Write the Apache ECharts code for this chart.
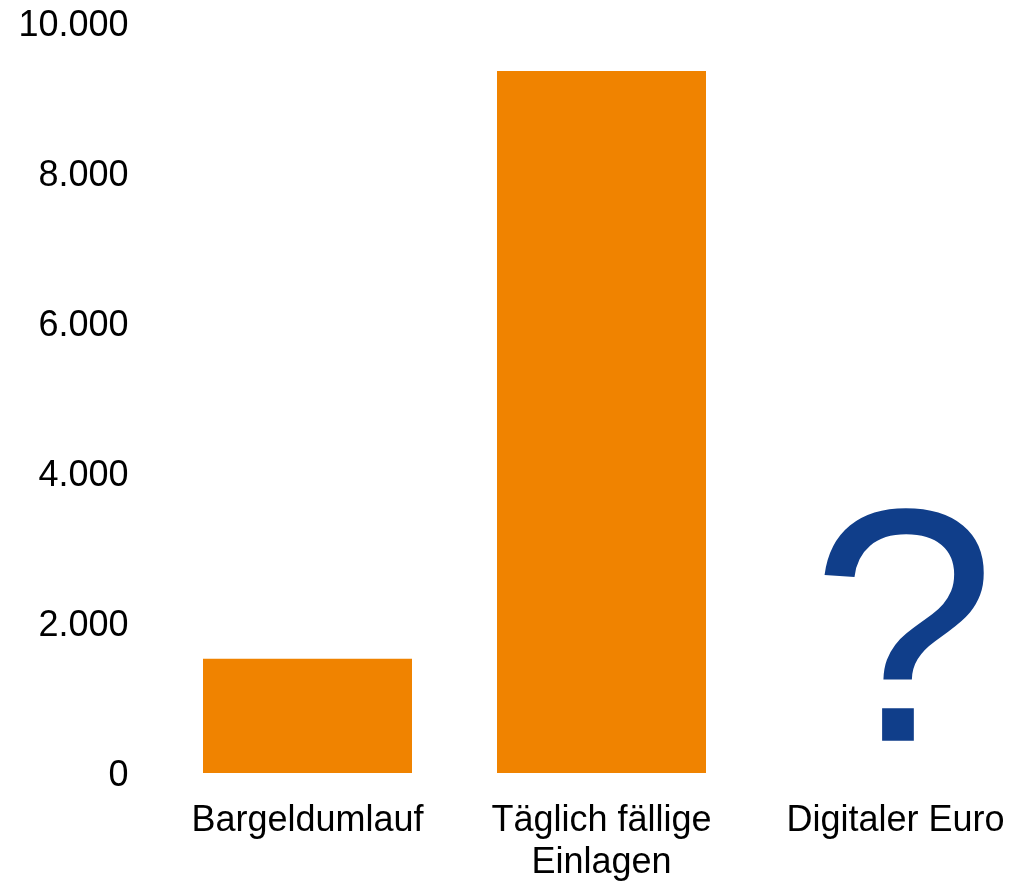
<!DOCTYPE html>
<html>
<head>
<meta charset="utf-8">
<script src="https://cdn.jsdelivr.net/npm/echarts@6/dist/echarts.min.js"></script>
<style>
html,body{margin:0;padding:0;background:#fff;}
#chart{width:1026px;height:882px;}
</style>
</head>
<body>
<div id="chart"></div>
<script>
const categories = ['Bargeldumlauf', 'Täglich fällige\nEinlagen', 'Digitaler Euro'];
const values = [1525, 9360, null];
const questionMarks = [null, null, 2000];
const yTicks = [0, 2000, 4000, 6000, 8000, 10000];

const fmt = v => '{a|' + String(v).replace(/\B(?=(\d{3})+(?!\d))/g, '.') + '}';

const chart = echarts.init(document.getElementById('chart'), null, {renderer: 'canvas'});
chart.setOption({
  animation: false,
  backgroundColor: '#ffffff',
  textStyle: {fontFamily: 'Liberation Sans, Arial, sans-serif'},
  grid: {left: 160.5, top: 23, width: 882, bottom: 109, containLabel: false, outerBoundsMode: 'none'},
  xAxis: {
    type: 'category',
    data: categories,
    axisLine: {show: false},
    axisTick: {show: false},
    axisLabel: {color: '#000', fontSize: 36, lineHeight: 42, margin: 27, fontFamily: 'Liberation Sans, Arial, sans-serif', interval: 0}
  },
  yAxis: {
    type: 'value',
    min: yTicks[0],
    max: yTicks[yTicks.length - 1],
    interval: 2000,
    splitLine: {show: false},
    axisLine: {show: false},
    axisTick: {show: false},
    axisLabel: {
      color: '#000', fontSize: 36, margin: 32, formatter: fmt,
      fontFamily: 'Liberation Sans, Arial, sans-serif',
      rich: {a: {fontSize: 36, color: '#000', padding: [6, 0, 0, 0], fontFamily: 'Liberation Sans, Arial, sans-serif'}}
    }
  },
  series: [
    {
      type: 'bar',
      data: values,
      barWidth: 209,
      itemStyle: {color: '#F08300'}
    },
    {
      type: 'scatter',
      data: questionMarks,
      symbolSize: 0,
      silent: true,
      itemStyle: {opacity: 1, color: '#103E8A'},
      label: {
        show: true,
        position: 'inside',
        formatter: '?',
        color: '#103E8A',
        opacity: 1,
        fontSize: 333,
        fontFamily: 'Liberation Sans, Arial, sans-serif',
        offset: [8, 26]
      }
    }
  ]
});
</script>
</body>
</html>
